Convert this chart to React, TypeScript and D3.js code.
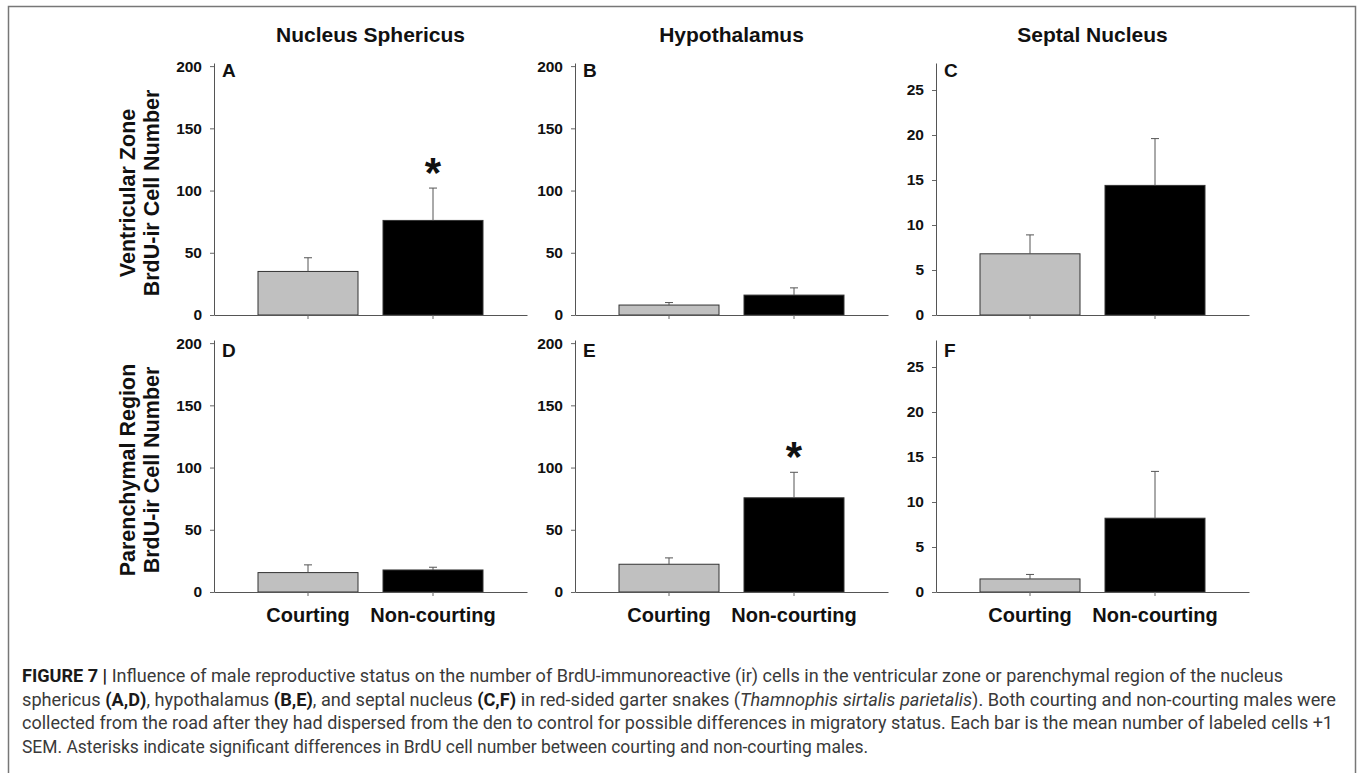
import { useRef, useEffect } from 'react';
import * as d3 from 'd3';

const regions = ['Nucleus Sphericus', 'Hypothalamus', 'Septal Nucleus'];
const groups = ['Courting', 'Non-courting'];
const panelLetters = [['A', 'B', 'C'], ['D', 'E', 'F']];
const rowTitles = [['Ventricular Zone', 'BrdU-ir Cell Number'], ['Parenchymal Region', 'BrdU-ir Cell Number']];

// mean and +1 SEM per region, [courting, non-courting]
const vzMean = [[35, 76], [8, 16], [6.8, 14.4]];
const vzSem = [[11, 26], [2, 5.8], [2.1, 5.2]];
const prMean = [[15.6, 17.7], [22.3, 75.7], [1.45, 8.2]];
const prSem = [[6.2, 2.2], [5.1, 20.5], [0.5, 5.2]];
const vzSig = [[false, true], [false, false], [false, false]];
const prSig = [[false, false], [false, true], [false, false]];

const yMax = [202.5, 202.5, 28];
const yTicks = [[0, 50, 100, 150, 200], [0, 50, 100, 150, 200], [0, 5, 10, 15, 20, 25]];
const barColors = ['#c0c0c0', '#000000'];

const captionLines = [
  [['FIGURE 7 | ', 'b'], ['Influence of male reproductive status on the number of BrdU-immunoreactive (ir) cells in the ventricular zone or parenchymal region of the nucleus', '']],
  [['sphericus ', ''], ['(A,D)', 'b'], [', hypothalamus ', ''], ['(B,E)', 'b'], [', and septal nucleus ', ''], ['(C,F)', 'b'], [' in red-sided garter snakes (', ''], ['Thamnophis sirtalis parietalis', 'i'], ['). Both courting and non-courting males were', '']],
  [['collected from the road after they had dispersed from the den to control for possible differences in migratory status. Each bar is the mean number of labeled cells +1', '']],
  [['SEM. Asterisks indicate significant differences in BrdU cell number between courting and non-courting males.', '']],
];
const captionWidths = [1261, 1314, 1311, 846];

const W = 1360;
const H = 773;
const FONT = 'Arial, "Liberation Sans", sans-serif';

export default function App() {
  const svgRef = useRef<SVGSVGElement>(null);

  useEffect(() => {
    const svg = d3.select(svgRef.current);
    svg.selectAll('*').remove();

    const axisLeft = [214, 575, 936];
    const rowBase = [315, 592];
    const plotW = 313;
    const plotH = 252;

    // frame
    svg.append('rect').attr('x', 8.5).attr('y', 6.5).attr('width', 1347).attr('height', 800)
      .attr('fill', 'none').attr('stroke', '#777').attr('stroke-width', 1.5);

    // column titles
    regions.forEach((r, c) => {
      svg.append('text').attr('x', axisLeft[c] + plotW / 2).attr('y', 42)
        .attr('text-anchor', 'middle').attr('font-family', FONT).attr('font-weight', 'bold')
        .attr('font-size', 21).attr('fill', '#111').text(r);
    });

    // row titles
    rowTitles.forEach((lines, r) => {
      const cy = rowBase[r] - plotH / 2 + 4;
      lines.forEach((t, i) => {
        svg.append('text').attr('transform', `translate(${135 + i * 24},${cy}) rotate(-90)`)
          .attr('text-anchor', 'middle').attr('font-family', FONT).attr('font-weight', 'bold')
          .attr('font-size', 21.5).attr('fill', '#111').text(t);
      });
    });

    const rows = [[vzMean, vzSem, vzSig], [prMean, prSem, prSig]] as const;

    rows.forEach(([means, sems, sigs], r) => {
      regions.forEach((_, c) => {
        const g = svg.append('g').attr('transform', `translate(${axisLeft[c]},${rowBase[r] - plotH})`);
        const y = d3.scaleLinear().domain([0, yMax[c]]).range([plotH, 0]);
        const x = d3.scaleBand().domain(groups).range([0, plotW]).paddingInner(0.2).paddingOuter(0.352);

        const data = groups.map((gName, i) => ({ g: gName, i, mean: means[c][i], sem: sems[c][i], sig: sigs[c][i] }));

        g.selectAll('.bar').data(data).join('rect')
          .attr('x', (d) => x(d.g) ?? 0).attr('y', (d) => y(d.mean))
          .attr('width', x.bandwidth()).attr('height', (d) => y(0) - y(d.mean))
          .attr('fill', (d) => barColors[d.i]).attr('stroke', '#333').attr('stroke-width', 1);

        // error bars, +1 SEM only
        const cx = (d: { g: string }) => (x(d.g) ?? 0) + x.bandwidth() / 2;
        g.selectAll('.err').data(data).join('line')
          .attr('x1', cx).attr('x2', cx)
          .attr('y1', (d) => y(d.mean)).attr('y2', (d) => y(d.mean + d.sem))
          .attr('stroke', '#555').attr('stroke-width', 1);
        g.selectAll('.cap').data(data).join('line')
          .attr('x1', (d) => cx(d) - 4).attr('x2', (d) => cx(d) + 4)
          .attr('y1', (d) => y(d.mean + d.sem)).attr('y2', (d) => y(d.mean + d.sem))
          .attr('stroke', '#555').attr('stroke-width', 1);

        g.selectAll('.star').data(data.filter((d) => d.sig)).join('text')
          .attr('x', cx).attr('y', (d) => y(d.mean + d.sem) - 1)
          .attr('text-anchor', 'middle').attr('font-family', FONT).attr('font-weight', 'bold')
          .attr('font-size', 42).attr('fill', '#111').text('*');

        // y axis
        const ya = g.append('g').call(
          d3.axisLeft(y).tickValues(yTicks[c]).tickSize(4).tickSizeOuter(0).tickPadding(8)
        );
        ya.select('.domain').attr('stroke', '#555');
        ya.selectAll('.tick line').attr('stroke', '#666');
        ya.selectAll('.tick text').attr('font-family', FONT).attr('font-weight', 'bold')
          .attr('font-size', 15.5).attr('fill', '#111');

        // x axis
        const xa = g.append('g').attr('transform', `translate(0,${plotH})`).call(
          d3.axisBottom(x).tickSize(4).tickSizeOuter(0).tickPadding(11.5)
            .tickFormat((d) => (r === 1 ? d : ''))
        );
        xa.select('.domain').attr('stroke', '#555');
        xa.selectAll('.tick line').attr('stroke', '#666');
        xa.selectAll('.tick text').attr('font-family', FONT).attr('font-weight', 'bold')
          .attr('font-size', 20).attr('fill', '#111');

        g.append('text').attr('x', 8).attr('y', r === 0 ? 14 : 16.5)
          .attr('font-family', FONT).attr('font-weight', 'bold').attr('font-size', 19)
          .attr('fill', '#111').text(panelLetters[r][c]);
      });
    });

    // caption
    captionLines.forEach((parts, li) => {
      const t = svg.append('text').attr('x', 22).attr('y', 682 + li * 23.7)
        .attr('font-family', '"Liberation Sans Narrow", "Roboto", "Liberation Sans", sans-serif')
        .attr('font-size', 18).attr('fill', '#3a3a3a')
        .attr('textLength', captionWidths[li]).attr('lengthAdjust', 'spacingAndGlyphs');
      parts.forEach(([s, style]) => {
        const ts = t.append('tspan').text(s);
        if (style === 'b') ts.attr('font-weight', 'bold').attr('fill', '#1a1a1a');
        if (style === 'i') ts.attr('font-style', 'italic');
      });
    });
  }, []);

  return (
    <svg ref={svgRef} width={W} height={H}
      style={{ position: 'absolute', left: 0, top: 0, background: '#fff' }} />
  );
}
